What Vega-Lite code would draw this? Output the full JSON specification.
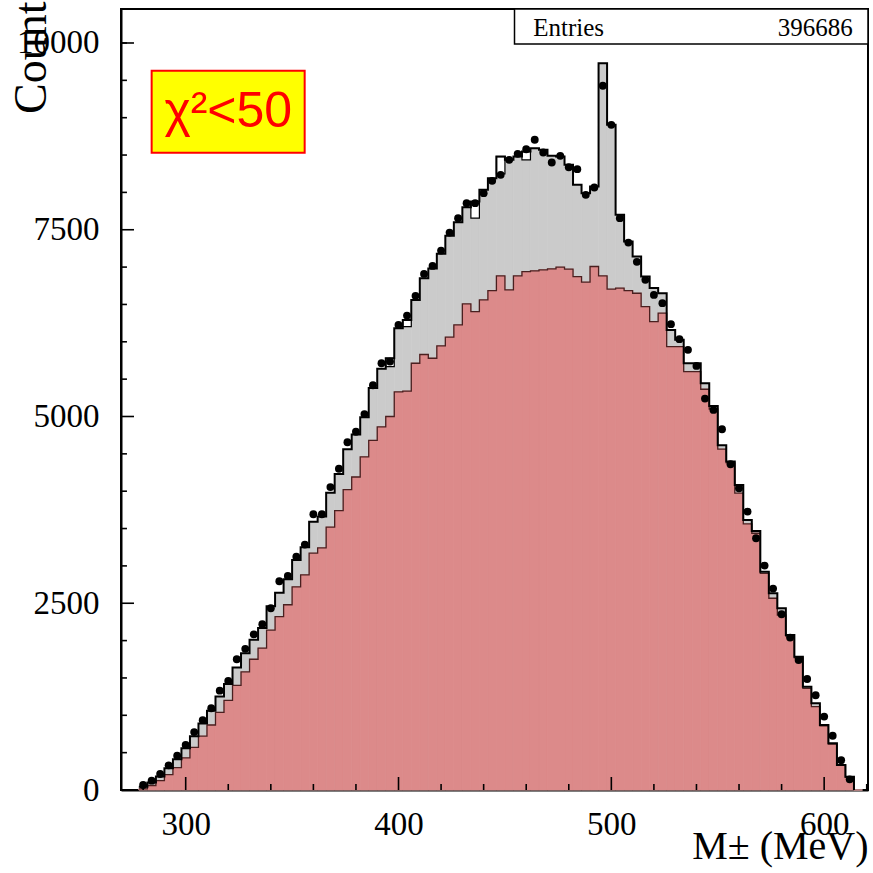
{
  "$schema": "https://vega.github.io/schema/vega-lite/v6.json",
  "width": 747,
  "height": 781,
  "autosize": {"type": "none"},
  "padding": {"left": 121, "top": 9, "right": 5, "bottom": 83},
  "background": "white",
  "config": {
    "view": {"stroke": "black", "strokeWidth": 2},
    "axis": {"labelFont": "Liberation Serif", "titleFont": "Liberation Serif", "labelColor": "black", "titleColor": "black", "domainColor": "black", "tickColor": "black", "grid": false, "titleFontWeight": "normal", "zindex": 1}
  },
  "datasets": {
    "bins": [
      {"c": 280, "lo": 278, "hi": 282, "data": 67, "total": 45, "red": 15},
      {"c": 284, "lo": 282, "hi": 286, "data": 125, "total": 100, "red": 60},
      {"c": 288, "lo": 286, "hi": 290, "data": 214, "total": 180, "red": 125},
      {"c": 292, "lo": 290, "hi": 294, "data": 330, "total": 290, "red": 205},
      {"c": 296, "lo": 294, "hi": 298, "data": 460, "total": 410, "red": 300},
      {"c": 300, "lo": 298, "hi": 302, "data": 603, "total": 560, "red": 430},
      {"c": 304, "lo": 302, "hi": 306, "data": 775, "total": 720, "red": 570},
      {"c": 308, "lo": 306, "hi": 310, "data": 935, "total": 890, "red": 720},
      {"c": 312, "lo": 310, "hi": 314, "data": 1094, "total": 1060, "red": 870},
      {"c": 316, "lo": 314, "hi": 318, "data": 1330, "total": 1250, "red": 1040},
      {"c": 320, "lo": 318, "hi": 322, "data": 1460, "total": 1420, "red": 1200},
      {"c": 324, "lo": 322, "hi": 326, "data": 1750, "total": 1640, "red": 1400},
      {"c": 328, "lo": 326, "hi": 330, "data": 1890, "total": 1830, "red": 1580},
      {"c": 332, "lo": 330, "hi": 334, "data": 2084, "total": 2010, "red": 1750},
      {"c": 336, "lo": 334, "hi": 338, "data": 2220, "total": 2170, "red": 1900},
      {"c": 340, "lo": 338, "hi": 342, "data": 2433, "total": 2460, "red": 2140},
      {"c": 344, "lo": 342, "hi": 346, "data": 2795, "total": 2640, "red": 2320},
      {"c": 348, "lo": 346, "hi": 350, "data": 2865, "total": 2820, "red": 2480},
      {"c": 352, "lo": 350, "hi": 354, "data": 3124, "total": 3080, "red": 2720},
      {"c": 356, "lo": 354, "hi": 358, "data": 3285, "total": 3250, "red": 2880},
      {"c": 360, "lo": 358, "hi": 362, "data": 3691, "total": 3590, "red": 3170},
      {"c": 364, "lo": 362, "hi": 366, "data": 3691, "total": 3660, "red": 3240},
      {"c": 368, "lo": 366, "hi": 370, "data": 4055, "total": 3980, "red": 3520},
      {"c": 372, "lo": 370, "hi": 374, "data": 4300, "total": 4230, "red": 3740},
      {"c": 376, "lo": 374, "hi": 378, "data": 4655, "total": 4560, "red": 4020},
      {"c": 380, "lo": 378, "hi": 382, "data": 4795, "total": 4760, "red": 4190},
      {"c": 384, "lo": 382, "hi": 386, "data": 5032, "total": 4990, "red": 4460},
      {"c": 388, "lo": 386, "hi": 390, "data": 5418, "total": 5380, "red": 4680},
      {"c": 392, "lo": 390, "hi": 394, "data": 5713, "total": 5640, "red": 4860},
      {"c": 396, "lo": 394, "hi": 398, "data": 5735, "total": 5780, "hatch": 5668, "red": 5000},
      {"c": 400, "lo": 398, "hi": 402, "data": 6226, "total": 6180, "red": 5330},
      {"c": 404, "lo": 402, "hi": 406, "data": 6351, "total": 6293, "hatch": 6204, "red": 5340},
      {"c": 408, "lo": 406, "hi": 410, "data": 6615, "total": 6560, "red": 5713},
      {"c": 412, "lo": 410, "hi": 414, "data": 6909, "total": 6850, "red": 5830},
      {"c": 416, "lo": 414, "hi": 418, "data": 7016, "total": 6980, "red": 5780},
      {"c": 420, "lo": 418, "hi": 422, "data": 7221, "total": 7180, "red": 5945},
      {"c": 424, "lo": 422, "hi": 426, "data": 7462, "total": 7420, "red": 6062},
      {"c": 428, "lo": 426, "hi": 430, "data": 7655, "total": 7600, "red": 6226},
      {"c": 432, "lo": 430, "hi": 434, "data": 7856, "total": 7800, "red": 6507},
      {"c": 436, "lo": 434, "hi": 438, "data": 7856, "total": 7878, "hatch": 7655, "red": 6405},
      {"c": 440, "lo": 438, "hi": 442, "data": 7990, "total": 8034, "red": 6561},
      {"c": 444, "lo": 442, "hi": 446, "data": 8155, "total": 8190, "red": 6686},
      {"c": 448, "lo": 446, "hi": 450, "data": 8235, "total": 8480, "hatch": 8248, "red": 6882},
      {"c": 452, "lo": 450, "hi": 454, "data": 8436, "total": 8436, "red": 6695},
      {"c": 456, "lo": 454, "hi": 458, "data": 8516, "total": 8480, "red": 6882},
      {"c": 460, "lo": 458, "hi": 462, "data": 8578, "total": 8547, "hatch": 8436, "red": 6940},
      {"c": 464, "lo": 462, "hi": 466, "data": 8704, "total": 8592, "red": 6950},
      {"c": 468, "lo": 466, "hi": 470, "data": 8534, "total": 8570, "red": 6963},
      {"c": 472, "lo": 470, "hi": 474, "data": 8400, "total": 8490, "red": 6976},
      {"c": 476, "lo": 474, "hi": 478, "data": 8489, "total": 8480, "red": 6999},
      {"c": 480, "lo": 478, "hi": 482, "data": 8337, "total": 8369, "red": 6972},
      {"c": 484, "lo": 482, "hi": 486, "data": 8311, "total": 8103, "red": 6873},
      {"c": 488, "lo": 486, "hi": 490, "data": 7967, "total": 7990, "red": 6798},
      {"c": 492, "lo": 490, "hi": 494, "data": 8065, "total": 8079, "red": 7008},
      {"c": 496, "lo": 494, "hi": 498, "data": 9427, "total": 9730, "red": 6882},
      {"c": 500, "lo": 498, "hi": 502, "data": 8904, "total": 8904, "red": 6704},
      {"c": 504, "lo": 502, "hi": 506, "data": 7655, "total": 7701, "red": 6718},
      {"c": 508, "lo": 506, "hi": 510, "data": 7328, "total": 7342, "red": 6686},
      {"c": 512, "lo": 510, "hi": 514, "data": 7070, "total": 7141, "red": 6650},
      {"c": 516, "lo": 514, "hi": 518, "data": 6829, "total": 6873, "red": 6472},
      {"c": 520, "lo": 518, "hi": 522, "data": 6628, "total": 6720, "red": 6271},
      {"c": 524, "lo": 522, "hi": 526, "data": 6517, "total": 6650, "red": 6383},
      {"c": 528, "lo": 526, "hi": 530, "data": 6236, "total": 6159, "red": 5936},
      {"c": 532, "lo": 530, "hi": 534, "data": 6035, "total": 6026, "red": 5936},
      {"c": 536, "lo": 534, "hi": 538, "data": 5892, "total": 5713, "red": 5601},
      {"c": 540, "lo": 538, "hi": 542, "data": 5677, "total": 5713, "red": 5601},
      {"c": 544, "lo": 542, "hi": 546, "data": 5240, "total": 5446, "red": 5365},
      {"c": 548, "lo": 546, "hi": 550, "data": 5088, "total": 5142, "red": 5100},
      {"c": 552, "lo": 550, "hi": 554, "data": 4830, "total": 4615, "red": 4562},
      {"c": 556, "lo": 554, "hi": 558, "data": 4361, "total": 4396, "red": 4380},
      {"c": 560, "lo": 558, "hi": 562, "data": 4040, "total": 4084, "red": 3973},
      {"c": 564, "lo": 562, "hi": 566, "data": 3727, "total": 3615, "red": 3562},
      {"c": 568, "lo": 566, "hi": 570, "data": 3370, "total": 3468, "red": 3437},
      {"c": 572, "lo": 570, "hi": 574, "data": 3004, "total": 2923, "red": 2900},
      {"c": 576, "lo": 574, "hi": 578, "data": 2696, "total": 2634, "red": 2567},
      {"c": 580, "lo": 578, "hi": 582, "data": 2352, "total": 2433, "red": 2343},
      {"c": 584, "lo": 582, "hi": 586, "data": 2040, "total": 2075, "red": 2060},
      {"c": 588, "lo": 586, "hi": 590, "data": 1741, "total": 1785, "red": 1770},
      {"c": 592, "lo": 590, "hi": 594, "data": 1486, "total": 1383, "red": 1361},
      {"c": 596, "lo": 594, "hi": 598, "data": 1268, "total": 1161, "red": 1116},
      {"c": 600, "lo": 598, "hi": 602, "data": 983, "total": 870, "red": 860},
      {"c": 604, "lo": 602, "hi": 606, "data": 727, "total": 625, "red": 615},
      {"c": 608, "lo": 606, "hi": 610, "data": 398, "total": 335, "red": 330},
      {"c": 612, "lo": 610, "hi": 614, "data": 143, "total": 178, "red": 170},
      {"c": 616, "lo": 614, "hi": 618, "total": 0, "red": 0}
    ],
    "xmajor": [{"v": 300}, {"v": 400}, {"v": 500}, {"v": 600}],
    "xminor": [{"v": 280}, {"v": 320}, {"v": 340}, {"v": 360}, {"v": 380}, {"v": 420}, {"v": 440}, {"v": 460}, {"v": 480}, {"v": 520}, {"v": 540}, {"v": 560}, {"v": 580}, {"v": 620}],
    "ymajor": [{"v": 2500}, {"v": 5000}, {"v": 7500}, {"v": 10000}],
    "yminor": [{"v": 500}, {"v": 1000}, {"v": 1500}, {"v": 2000}, {"v": 3000}, {"v": 3500}, {"v": 4000}, {"v": 4500}, {"v": 5500}, {"v": 6000}, {"v": 6500}, {"v": 7000}, {"v": 8000}, {"v": 8500}, {"v": 9000}, {"v": 9500}, {"v": 10000}]
  },
  "data": {"name": "bins"},
  "layer": [
    {
      "mark": {"type": "rect", "fill": "#cbcbcb", "stroke": "#cbcbcb", "strokeWidth": 0.7},
      "encoding": {
        "x": {"field": "lo", "type": "quantitative", "scale": {"domain": [269.6, 620.6], "nice": false, "zero": false},
          "axis": {"orient": "bottom", "values": [300, 400, 500, 600], "format": "d", "ticks": false, "tickSize": 0, "domainWidth": 2, "labelFontSize": 33, "labelPadding": 18, "labelFlush": false,
            "title": "M± (MeV)", "titleFontSize": 40, "titleX": 747, "titleY": 68, "titleAlign": "right", "titleBaseline": "alphabetic"}},
        "x2": {"field": "hi"},
        "y": {"field": "total", "type": "quantitative", "scale": {"domain": [0, 10455], "nice": false},
          "axis": {"orient": "left", "values": [0, 2500, 5000, 7500, 10000], "format": "d", "ticks": false, "tickSize": 0, "domainWidth": 2, "labelFontSize": 33, "labelPadding": 22, "labelFlush": false,
            "title": "Count", "titleFontSize": 46, "titleX": -76, "titleY": -8, "titleAlign": "right", "titleBaseline": "alphabetic", "titleAngle": 270}},
        "y2": {"datum": 0}
      }
    },
    {
      "mark": {"type": "rect", "fill": "#dc8a8a", "stroke": "#dc8a8a", "strokeWidth": 0.7},
      "encoding": {
        "x": {"field": "lo", "type": "quantitative", "scale": {"domain": [269.6, 620.6], "nice": false, "zero": false}},
        "x2": {"field": "hi"},
        "y": {"field": "red", "type": "quantitative", "scale": {"domain": [0, 10455], "nice": false}},
        "y2": {"datum": 0}
      }
    },
    {
      "mark": {"type": "rect", "fill": "white", "stroke": "black", "strokeWidth": 1.2},
      "encoding": {
        "x": {"field": "lo", "type": "quantitative", "scale": {"domain": [269.6, 620.6], "nice": false, "zero": false}},
        "x2": {"field": "hi"},
        "y": {"field": "hatch", "type": "quantitative", "scale": {"domain": [0, 10455], "nice": false}},
        "y2": {"field": "total"}
      }
    },
    {
      "mark": {"type": "line", "interpolate": "step-after", "stroke": "#4a2020", "strokeWidth": 1.3},
      "encoding": {
        "x": {"field": "lo", "type": "quantitative", "scale": {"domain": [269.6, 620.6], "nice": false, "zero": false}},
        "y": {"field": "red", "type": "quantitative", "scale": {"domain": [0, 10455], "nice": false}}
      }
    },
    {
      "mark": {"type": "line", "interpolate": "step-after", "stroke": "black", "strokeWidth": 2},
      "encoding": {
        "x": {"field": "lo", "type": "quantitative", "scale": {"domain": [269.6, 620.6], "nice": false, "zero": false}},
        "y": {"field": "total", "type": "quantitative", "scale": {"domain": [0, 10455], "nice": false}}
      }
    },
    {
      "mark": {"type": "point", "filled": true, "color": "black", "size": 62, "opacity": 1},
      "encoding": {
        "x": {"field": "c", "type": "quantitative", "scale": {"domain": [269.6, 620.6], "nice": false, "zero": false}},
        "y": {"field": "data", "type": "quantitative", "scale": {"domain": [0, 10455], "nice": false}}
      }
    },
    {
      "data": {"name": "xmajor"},
      "mark": {"type": "rule", "color": "black", "strokeWidth": 1.6},
      "encoding": {
        "x": {"field": "v", "type": "quantitative", "scale": {"domain": [269.6, 620.6], "nice": false, "zero": false}},
        "y": {"datum": 0, "type": "quantitative", "scale": {"domain": [0, 10455], "nice": false}},
        "y2": {"datum": 174}
      }
    },
    {
      "data": {"name": "xminor"},
      "mark": {"type": "rule", "color": "black", "strokeWidth": 1.6},
      "encoding": {
        "x": {"field": "v", "type": "quantitative", "scale": {"domain": [269.6, 620.6], "nice": false, "zero": false}},
        "y": {"datum": 0, "type": "quantitative", "scale": {"domain": [0, 10455], "nice": false}},
        "y2": {"datum": 80}
      }
    },
    {
      "data": {"name": "ymajor"},
      "mark": {"type": "rule", "color": "black", "strokeWidth": 1.6},
      "encoding": {
        "y": {"field": "v", "type": "quantitative", "scale": {"domain": [0, 10455], "nice": false}},
        "x": {"datum": 269.6, "type": "quantitative", "scale": {"domain": [269.6, 620.6], "nice": false, "zero": false}},
        "x2": {"datum": 275.7}
      }
    },
    {
      "data": {"name": "yminor"},
      "mark": {"type": "rule", "color": "black", "strokeWidth": 1.6},
      "encoding": {
        "y": {"field": "v", "type": "quantitative", "scale": {"domain": [0, 10455], "nice": false}},
        "x": {"datum": 269.6, "type": "quantitative", "scale": {"domain": [269.6, 620.6], "nice": false, "zero": false}},
        "x2": {"datum": 272.4}
      }
    },
    {
      "data": {"values": [{"box": "stats"}]},
      "mark": {"type": "rect", "fill": "white", "stroke": "black", "strokeWidth": 1.5},
      "encoding": {
        "x": {"datum": 454.5, "type": "quantitative", "scale": {"domain": [269.6, 620.6], "nice": false, "zero": false}},
        "x2": {"datum": 620.6},
        "y": {"datum": 9985, "type": "quantitative", "scale": {"domain": [0, 10455], "nice": false}},
        "y2": {"datum": 10455}
      }
    },
    {
      "data": {"values": [{"label": "Entries"}]},
      "mark": {"type": "text", "font": "Liberation Serif", "fontSize": 25, "align": "left", "baseline": "alphabetic", "color": "black"},
      "encoding": {
        "x": {"datum": 463.3, "type": "quantitative", "scale": {"domain": [269.6, 620.6], "nice": false, "zero": false}},
        "y": {"datum": 10096, "type": "quantitative", "scale": {"domain": [0, 10455], "nice": false}},
        "text": {"field": "label"}
      }
    },
    {
      "data": {"values": [{"label": "396686"}]},
      "mark": {"type": "text", "font": "Liberation Serif", "fontSize": 25, "align": "right", "baseline": "alphabetic", "color": "black"},
      "encoding": {
        "x": {"datum": 613.4, "type": "quantitative", "scale": {"domain": [269.6, 620.6], "nice": false, "zero": false}},
        "y": {"datum": 10096, "type": "quantitative", "scale": {"domain": [0, 10455], "nice": false}},
        "text": {"field": "label"}
      }
    },
    {
      "data": {"values": [{"box": "chi"}]},
      "mark": {"type": "rect", "fill": "#ffff00", "stroke": "#ff0000", "strokeWidth": 2},
      "encoding": {
        "x": {"datum": 284.0, "type": "quantitative", "scale": {"domain": [269.6, 620.6], "nice": false, "zero": false}},
        "x2": {"datum": 355.9},
        "y": {"datum": 8529, "type": "quantitative", "scale": {"domain": [0, 10455], "nice": false}},
        "y2": {"datum": 9627}
      }
    },
    {
      "data": {"values": [{"label": "χ²<50"}]},
      "mark": {"type": "text", "font": "Liberation Sans", "fontSize": 50, "align": "center", "baseline": "middle", "color": "#ff0000"},
      "encoding": {
        "x": {"datum": 320.0, "type": "quantitative", "scale": {"domain": [269.6, 620.6], "nice": false, "zero": false}},
        "y": {"datum": 9078, "type": "quantitative", "scale": {"domain": [0, 10455], "nice": false}},
        "text": {"field": "label"}
      }
    }
  ]
}
